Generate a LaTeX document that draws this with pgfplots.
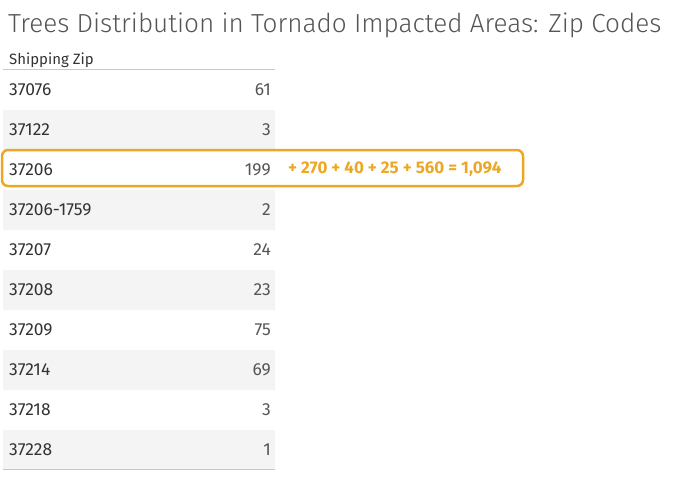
\documentclass[border=0pt]{standalone}
\usepackage{pgfplots}
\pgfplotsset{compat=1.18}
\usepackage{pgfplotstable}
\usepackage{fontspec}
\setmainfont{Fira Sans}
\newfontfamily\lightfont{Fira Sans Light}

\definecolor{titlegray}{HTML}{555555}
\definecolor{zipgray}{HTML}{333333}
\definecolor{numgray}{HTML}{555555}
\definecolor{rowgray}{HTML}{F4F4F4}
\definecolor{rulegray}{HTML}{C8C8C8}
\definecolor{hlorange}{HTML}{ECA824}

% row index, zip code, number of trees
\pgfplotstableread[col sep=comma]{
row,zip,trees
0,37076,61
1,37122,3
2,37206,199
3,37206-1759,2
4,37207,24
5,37208,23
6,37209,75
7,37214,69
8,37218,3
9,37228,1
}\zipdata

\begin{document}
\begin{tikzpicture}
\begin{axis}[
  scale only axis,
  width=698bp, height=480bp,
  xmin=-3, xmax=695,
  ymin=-2.25, ymax=9.75,
  y dir=reverse,
  axis lines=none,
  xtick=\empty, ytick=\empty,
  clip=false,
]
% banded rows
\addplot[xbar, bar width=1, bar shift=0pt, fill=rowgray, draw=none]
  coordinates {(272,1) (272,3) (272,5) (272,7) (272,9)};
% header and bottom rules
\addplot[rulegray, line width=1.1bp] coordinates {(0,-0.52) (272,-0.52)};
\addplot[rulegray, line width=1.1bp] coordinates {(0,9.48) (272,9.48)};
% zip codes
\addplot[draw=none, mark=none,
  nodes near coords, point meta=explicit symbolic,
  nodes near coords style={anchor=west, font=\fontsize{17.5}{20}\selectfont, text=zipgray, inner sep=0pt}]
  table[x expr=6, y=row, meta=zip] {\zipdata};
% tree counts
\addplot[draw=none, mark=none,
  nodes near coords, point meta=explicit symbolic,
  nodes near coords style={anchor=east, font=\fontsize{17.5}{20}\selectfont, text=numgray, inner sep=0pt}]
  table[x expr=268, y=row, meta=trees] {\zipdata};
% title and header
\node[anchor=base west, inner sep=0pt, text=titlegray, font=\lightfont\fontsize{26.2}{30}\selectfont]
  at (axis cs:5,-1.45) {Trees Distribution in Tornado Impacted Areas: Zip Codes};
\node[anchor=base west, inner sep=0pt, text=zipgray, font=\fontsize{15}{17}\selectfont]
  at (axis cs:6,-0.65) {Shipping Zip};
% highlight annotation
\draw[hlorange, line width=2.5bp, rounded corners=6bp]
  (axis cs:-1,1.5) rectangle (axis cs:520,2.4);
\node[anchor=west, inner sep=0pt, text=hlorange, font=\bfseries\fontsize{17}{19}\selectfont]
  at (axis cs:285,1.975) {+ 270 + 40 + 25 + 560 = 1,094};
\end{axis}
\pgfresetboundingbox
\path (current axis.south west) rectangle (current axis.north east);
\end{tikzpicture}
\end{document}
